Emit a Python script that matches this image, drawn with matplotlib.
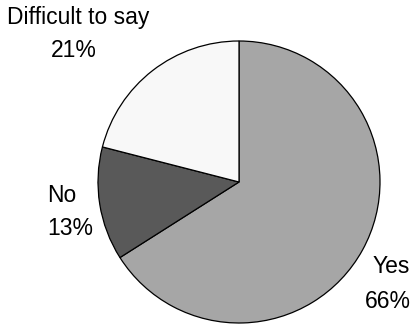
import matplotlib
matplotlib.use("Agg")
import matplotlib.pyplot as plt

categories = ["Yes", "No", "Difficult to say"]
values = [66, 13, 21]
colors = ["#a6a6a6", "#595959", "#f8f8f8"]

plt.rcParams['font.family'] = ['Liberation Sans', 'DejaVu Sans']
fs = 16.5

fig = plt.figure(figsize=(4.14, 3.26), dpi=100)
ax = fig.add_axes([0, 0, 1, 1])
ax.pie(values, startangle=90, counterclock=False, colors=colors,
       center=(239, 326 - 182), radius=141,
       wedgeprops=dict(edgecolor="black", linewidth=0.9))
ax.set_xlim(0, 414)
ax.set_ylim(0, 326)
ax.set_aspect('equal', adjustable='datalim')
ax.axis('off')

# (x_center, baseline) for category line and value line, in pixels from top
label_pos = {"Yes": ((391, 273), (388, 308)),
             "No": ((62, 202), (70, 235)),
             "Difficult to say": ((78, 24), (74, 57))}
for cat, v in zip(categories, values):
    (x1, y1), (x2, y2) = label_pos[cat]
    ax.text(x1, 326 - y1, cat, ha="center", va="baseline", fontsize=fs)
    ax.text(x2, 326 - y2, f"{v}%", ha="center", va="baseline", fontsize=fs)

fig.savefig("out.png", dpi=100)
